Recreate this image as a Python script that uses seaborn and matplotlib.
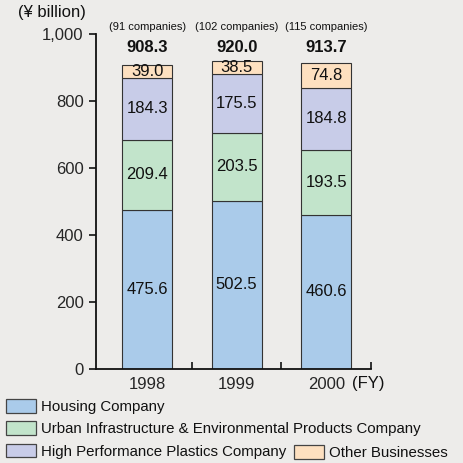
import numpy as np
import matplotlib
matplotlib.use('Agg')
import matplotlib.pyplot as plt
from matplotlib.patches import Patch
import seaborn as sns

# data
years = ['1998', '1999', '2000']
housing = [475.6, 502.5, 460.6]
urban = [209.4, 203.5, 193.5]
plastics = [184.3, 175.5, 184.8]
other = [39.0, 38.5, 74.8]
totals = [908.3, 920.0, 913.7]
companies = ['(91 companies)', '(102 companies)', '(115 companies)']

series_names = ['Housing Company',
                'Urban Infrastructure & Environmental Products Company',
                'High Performance Plastics Company',
                'Other Businesses']
colors = ['#aacbea', '#c2e4cb', '#c8cce8', '#fde0c0']

bg = '#edecea'
sns.set_theme(style='ticks')
plt.rcParams['font.family'] = ['Liberation Sans', 'DejaVu Sans']
plt.rcParams['text.color'] = '#111111'

fig = plt.figure(figsize=(4.64, 4.63), dpi=100, facecolor=bg)
ax = fig.add_axes([0.2069, 0.203, 0.5927, 0.7235], facecolor=bg)

bottom = np.zeros(len(years))
for vals, col in zip([housing, urban, plastics, other], colors):
    sns.barplot(x=years, y=vals, bottom=bottom, color=col, saturation=1,
                width=0.557, edgecolor='#333333', linewidth=0.8, ax=ax)
    ax.bar_label(ax.containers[-1], labels=[f'{v:.1f}' for v in vals],
                 label_type='center', fontsize=12, color='#111111')
    bottom = bottom + np.array(vals)

for i in range(len(years)):
    ax.text(i, 961, f'{totals[i]:.1f}', ha='center', va='center',
            fontsize=12, fontweight='bold')
    ax.text(i, 1021, companies[i], ha='center', va='center', fontsize=8)

ax.set_xlim(-0.57, 2.5)
ax.set_ylim(0, 1000)
ax.set_yticks([0, 200, 400, 600, 800, 1000])
ax.set_yticklabels(['0', '200', '400', '600', '800', '1,000'], fontsize=12)
ax.set_xticks([0, 1, 2])
ax.set_xticklabels(years, fontsize=12)
ax.set_xticks([0.5, 1.5, 2.5], minor=True)
ax.tick_params(axis='x', which='major', length=0, pad=6)
ax.tick_params(axis='x', which='minor', direction='in', length=5, width=1.2, color='#111111')
ax.tick_params(axis='y', direction='out', length=5, width=1.2, color='#111111', pad=4)
for s in ['top', 'right']:
    ax.spines[s].set_visible(False)
for s in ['left', 'bottom']:
    ax.spines[s].set_linewidth(1.3)
    ax.spines[s].set_color('#111111')
ax.set_xlabel('')
ax.set_ylabel('')

ax.text(2.29, -0.042, '(FY)', transform=ax.get_xaxis_transform(),
        ha='left', va='center', fontsize=12)
fig.text(0.112, 0.972, '(¥ billion)', ha='center', va='center', fontsize=12)

# legend: three rows on the left, "Other Businesses" on the last row
handles = [Patch(facecolor=c, edgecolor='#444444', linewidth=0.9) for c in colors]
leg_kw = dict(frameon=False, fontsize=10.8, handlelength=2.05, handleheight=1.0,
              handletextpad=0.33, borderpad=0, borderaxespad=0, labelspacing=0.5)
fig.legend(handles=handles[:3], labels=series_names[:3], loc='upper left',
           bbox_to_anchor=(0.012, 0.138), **leg_kw)
fig.legend(handles=handles[3:], labels=series_names[3:], loc='upper left',
           bbox_to_anchor=(0.633, 0.038), **leg_kw)

fig.savefig('out.png', dpi=100, facecolor=bg)
